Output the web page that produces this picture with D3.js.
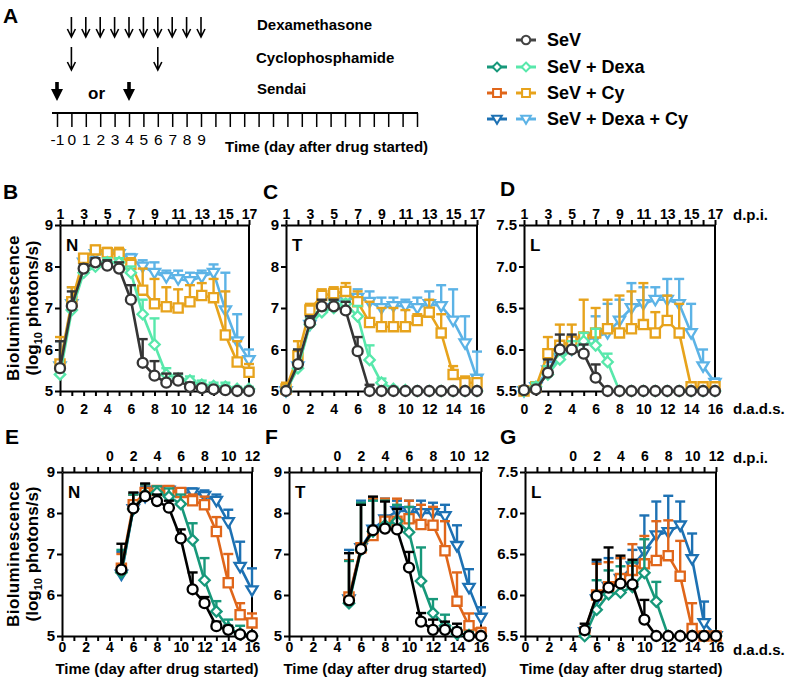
<!DOCTYPE html>
<html>
<head>
<meta charset="utf-8">
<script src="https://cdn.jsdelivr.net/npm/d3@7"></script>
<style>
  body { margin: 0; background: #fff; }
  svg { display: block; }
</style>
</head>
<body>
<svg id="fig" width="788" height="687"></svg>
<script>
// ---- data ----------------------------------------------------------------
// x values: day after drug started (d.a.d.s.)
const daysEarly = [0, 1, 2, 3, 4, 5, 6, 7, 8, 9, 10, 11, 12, 13, 14, 15, 16];
const daysLate = [5, 6, 7, 8, 9, 10, 11, 12, 13, 14, 15, 16];

// panel A schedule
const dexaDays = [0, 1, 2, 3, 4, 5, 6, 7, 8, 9];
const cyDays = [0, 6];
const sendaiDays = [-1, 4];

// B - nose, infected day -1
const bSeV = [5.55, 7.05, 7.95, 8.1, 8.02, 7.95, 7.2, 5.68, 5.37, 5.2, 5.25, 5.1, 5.07, 5.04, 5.02, 5.0, 5.0];
const bSeVErr = [6.2, 7.4, 8.05, 8.2, 8.15, 8.1, 7.55, 6.25, 5.72, 5.42, 5.42, 5.2, 5.12, 5.08, 5.05, 5.02, 5.02];
const bDexa = [5.4, 6.95, 7.85, 8.0, 8.1, 8.1, 7.85, 6.85, 6.12, 5.4, 5.3, 5.25, 5.15, 5.12, 5.1, 5.05, 5.05];
const bDexaErr = [5.5, 7.1, 8.0, 8.1, 8.2, 8.2, 8.0, 7.2, 6.75, 5.55, 5.4, 5.35, 5.25, 5.2, 5.2, 5.1, 5.1];
const bCy = [5.65, 7.15, 8.2, 8.4, 8.33, 8.3, 8.05, 7.43, 7.1, 7.03, 7.0, 7.15, 7.3, 7.25, 6.35, 5.7, 5.45];
const bCyErr = [6.3, 7.5, 8.3, 8.5, 8.45, 8.45, 8.2, 7.95, 7.7, 7.5, 7.45, 7.55, 7.6, 7.7, 7.4, 6.2, 5.65];
const bDexaCy = [5.6, 7.1, 8.1, 8.3, 8.3, 8.3, 8.2, 8.0, 7.85, 7.75, 7.7, 7.65, 7.75, 7.85, 6.95, 6.2, 5.75];
const bDexaCyErr = [6.2, 7.5, 8.2, 8.4, 8.4, 8.4, 8.3, 8.15, 8.1, 7.9, 7.9, 7.85, 7.9, 8.05, 7.85, 6.85, 6.0];

// C - trachea, infected day -1
const cSeV = [5.0, 5.65, 6.64, 7.04, 7.04, 6.94, 5.96, 5.0, 5.0, 5.0, 5.0, 5.0, 5.0, 5.0, 5.0, 5.0, 5.0];
const cSeVErr = [5.05, 6.0, 6.8, 7.2, 7.2, 7.15, 6.3, 5.15, 5.05, 5.0, 5.0, 5.0, 5.0, 5.0, 5.0, 5.0, 5.0];
const cDexa = [5.0, 5.55, 6.6, 6.9, 7.0, 7.1, 6.8, 5.75, 5.2, 5.05, 5.02, 5.0, 5.0, 5.0, 5.0, 5.0, 5.0];
const cDexaErr = [5.05, 5.7, 6.75, 7.05, 7.15, 7.2, 7.05, 6.1, 5.3, 5.1, 5.05, 5.0, 5.0, 5.0, 5.0, 5.0, 5.0];
const cCy = [5.05, 5.85, 6.95, 7.3, 7.35, 7.4, 7.15, 6.65, 6.55, 6.55, 6.55, 6.7, 6.9, 6.4, 5.4, 5.2, 5.2];
const cCyErr = [5.2, 6.2, 7.1, 7.45, 7.5, 7.6, 7.4, 7.15, 7.0, 7.0, 6.95, 6.85, 7.2, 6.85, 5.6, 5.35, 5.3];
const cDexaCy = [5.0, 5.6, 6.6, 7.0, 7.15, 7.2, 7.25, 7.15, 7.0, 7.05, 7.05, 7.0, 7.1, 7.05, 6.7, 6.15, 5.3];
const cDexaCyErr = [5.1, 6.0, 6.8, 7.2, 7.35, 7.45, 7.45, 7.4, 7.25, 7.25, 7.2, 7.25, 7.4, 7.55, 7.45, 6.8, 5.95];

// D - lungs, infected day -1
const dSeV = [5.51, 5.52, 5.72, 6.0, 6.0, 5.95, 5.66, 5.5, 5.5, 5.5, 5.5, 5.5, 5.5, 5.5, 5.5, 5.5, 5.5];
const dSeVErr = [5.52, 5.55, 5.88, 6.18, 6.18, 6.06, 5.82, 5.52, 5.5, 5.5, 5.5, 5.5, 5.5, 5.5, 5.5, 5.5, 5.5];
const dDexa = [5.5, 5.55, 5.7, 5.88, 6.0, 6.1, 6.05, 5.85, 5.5, 5.5, 5.5, 5.5, 5.5, 5.5, 5.5, 5.5, 5.5];
const dDexaErr = [5.5, 5.6, 5.8, 5.95, 6.1, 6.2, 6.25, 5.95, 5.52, 5.5, 5.5, 5.5, 5.5, 5.5, 5.5, 5.5, 5.5];
const dCy = [5.5, 5.55, 5.95, 6.05, 6.1, 6.15, 6.2, 6.25, 6.2, 6.25, 6.3, 6.2, 6.35, 6.2, 5.55, 5.55, 5.55];
const dCyErr = [5.55, 5.6, 6.15, 6.3, 6.3, 6.6, 6.5, 6.6, 6.65, 6.7, 6.8, 6.45, 6.65, 6.55, 5.6, 5.6, 5.6];
const dDexaCy = [5.5, 5.55, 5.75, 5.9, 6.0, 6.1, 6.15, 6.2, 6.35, 6.5, 6.55, 6.6, 6.6, 6.55, 6.2, 5.8, 5.6];
const dDexaCyErr = [5.55, 5.6, 5.85, 6.05, 6.15, 6.2, 6.4, 6.55, 6.6, 6.8, 6.75, 6.75, 6.85, 6.85, 6.55, 6.0, 5.65];

// E - nose, infected day 4
const eSeV = [6.62, 8.11, 8.41, 8.29, 8.13, 7.38, 6.14, 5.8, 5.24, 5.15, 5.04, 5.0];
const eSeVErr = [7.25, 8.5, 8.72, 8.45, 8.3, 7.6, 6.55, 5.95, 5.35, 5.25, 5.08, 5.02];
const eDexa = [6.55, 8.1, 8.45, 8.5, 8.4, 8.22, 7.34, 6.36, 5.6, 5.2, 5.05, 5.0];
const eDexaErr = [7.1, 8.45, 8.7, 8.65, 8.6, 8.45, 7.75, 6.9, 5.85, 5.4, 5.25, 5.05];
const eCy = [6.65, 8.2, 8.5, 8.55, 8.55, 8.5, 8.3, 8.2, 7.55, 6.3, 5.52, 5.32];
const eCyErr = [7.0, 8.45, 8.7, 8.65, 8.62, 8.6, 8.45, 8.4, 7.9, 7.0, 5.8, 5.55];
const eDexaCy = [6.5, 8.1, 8.4, 8.55, 8.55, 8.5, 8.5, 8.42, 8.3, 7.78, 6.69, 6.12];
const eDexaCyErr = [7.05, 8.45, 8.65, 8.65, 8.65, 8.6, 8.6, 8.55, 8.45, 8.08, 7.3, 6.65];

// F - trachea, infected day 4
const fSeV = [5.87, 7.12, 7.58, 7.62, 7.6, 6.67, 5.35, 5.15, 5.15, 5.1, 5.0, 5.0];
const fSeVErr = [7.02, 8.2, 8.4, 8.28, 8.1, 7.05, 5.56, 5.4, 5.35, 5.3, 5.05, 5.02];
const fDexa = [5.8, 7.1, 7.55, 7.7, 7.8, 7.53, 6.34, 5.56, 5.25, 5.05, 5.02, 5.0];
const fDexaErr = [6.83, 8.25, 8.3, 8.3, 8.2, 8.15, 7.16, 5.9, 5.52, 5.2, 5.1, 5.05];
const fCy = [5.95, 7.15, 7.45, 7.8, 7.8, 7.86, 7.72, 7.7, 7.08, 5.85, 5.25, 5.08];
const fCyErr = [6.85, 8.2, 8.35, 8.35, 8.35, 8.3, 8.2, 8.15, 7.8, 6.55, 5.55, 5.2];
const fDexaCy = [5.9, 7.15, 7.6, 7.85, 8.05, 8.05, 8.0, 8.0, 7.93, 7.2, 6.18, 5.45];
const fDexaCyErr = [7.1, 8.3, 8.35, 8.35, 8.3, 8.3, 8.3, 8.25, 8.2, 7.7, 6.63, 5.7];

// G - lungs, infected day 4
const gSeV = [5.57, 5.99, 6.09, 6.14, 6.13, 5.7, 5.5, 5.5, 5.5, 5.5, 5.5, 5.5];
const gSeVErr = [5.65, 6.43, 6.58, 6.48, 6.43, 5.94, 5.5, 5.5, 5.5, 5.5, 5.5, 5.5];
const gDexa = [5.5, 5.82, 6.01, 6.03, 6.1, 6.27, 5.92, 5.5, 5.5, 5.5, 5.5, 5.5];
const gDexaErr = [5.55, 6.18, 6.3, 6.35, 6.4, 6.68, 6.16, 5.5, 5.5, 5.5, 5.5, 5.5];
const gCy = [5.55, 6.0, 6.1, 6.2, 6.3, 6.38, 6.42, 6.48, 6.23, 5.59, 5.5, 5.5];
const gCyErr = [5.6, 6.38, 6.4, 6.45, 6.62, 6.72, 6.9, 6.91, 6.66, 5.9, 5.55, 5.5];
const gDexaCy = [5.55, 5.95, 6.1, 6.2, 6.35, 6.53, 6.73, 6.77, 6.85, 6.44, 5.66, 5.5];
const gDexaCyErr = [5.6, 6.4, 6.45, 6.45, 6.55, 6.97, 7.14, 7.21, 7.14, 6.75, 5.92, 5.52];

const legendLabels = ['SeV', 'SeV + Dexa', 'SeV + Cy', 'SeV + Dexa + Cy'];

// ---- styles ----------------------------------------------------------------
const FONT = '"Liberation Sans", Arial, Helvetica, sans-serif';
const light = { sev: '#353535', dexa: '#58e8ab', cy: '#e7a31c', dexaCy: '#5cb3e6' };
const dark = { sev: '#000000', dexa: '#17987a', cy: '#e0661a', dexaCy: '#1d71b3' };

// marker outlines, drawn around 0,0
const markerPath = {
  sev: d3.symbol(d3.symbolCircle, 78)(),
  dexa: 'M0,-5.2L5.2,0L0,5.2L-5.2,0Z',
  cy: 'M-4.6,-4.6H4.6V4.6H-4.6Z',
  dexaCy: 'M-5.6,-3.8L5.6,-3.8L0,5.6Z',
};

const svg = d3.select('#fig').attr('font-family', FONT);

function txt(x, y, s, size, opts = {}) {
  return svg.append('text')
    .attr('x', x).attr('y', y)
    .attr('font-size', size)
    .attr('font-weight', opts.weight || 'bold')
    .attr('text-anchor', opts.anchor || 'start')
    .attr('fill', '#000')
    .text(s);
}

function styleAxis(g, size) {
  g.attr('font-family', FONT).attr('font-size', size).attr('font-weight', 'bold');
  g.select('.domain').attr('stroke', '#000').attr('stroke-width', 2);
  g.selectAll('.tick line').attr('stroke', '#000').attr('stroke-width', 2);
  g.selectAll('.tick text').attr('fill', '#000');
}

// ---- panel A ---------------------------------------------------------------
txt(3, 23, 'A', 21);

const tScale = d3.scaleLinear().domain([-1, 24]).range([57, 417]);
const timeline = svg.append('g').attr('transform', 'translate(0,113)')
  .call(d3.axisBottom(tScale)
    .tickValues(d3.range(-1, 25))
    .tickFormat(d => (d <= 9 ? d : ''))
    .tickSize(14)
    .tickPadding(7));
timeline.select('.domain').remove();
timeline.selectAll('.tick line').attr('stroke', '#000').attr('stroke-width', 1.5);
timeline.selectAll('.tick text').attr('fill', '#000')
  .attr('font-family', FONT).attr('font-size', 15.5);
svg.append('line').attr('x1', 52).attr('x2', 418).attr('y1', 113).attr('y2', 113)
  .attr('stroke', '#000').attr('stroke-width', 2);

function thinArrow(x, y1, y2) {
  svg.append('path')
    .attr('d', `M${x},${y1}V${y2}M${x - 4},${y2 - 8}L${x},${y2}L${x + 4},${y2 - 8}`)
    .attr('fill', 'none').attr('stroke', '#000').attr('stroke-width', 1.6);
}
dexaDays.forEach(d => thinArrow(tScale(d), 17, 37));
cyDays.forEach(d => thinArrow(tScale(d), 47, 70));
sendaiDays.forEach(d => {
  const x = tScale(d);
  svg.append('path')
    .attr('d', `M${x - 1.8},82H${x + 1.8}V89H${x + 6}L${x},101L${x - 6},89H${x - 1.8}Z`)
    .attr('fill', '#000');
});
txt(88, 99, 'or', 17);
txt(257, 30, 'Dexamethasone', 15);
txt(256, 63, 'Cyclophosphamide', 15);
txt(257, 94, 'Sendai', 15);
txt(225, 152, 'Time (day after drug started)', 15);

// ---- legend -----------------------------------------------------------------
const legendKeys = ['sev', 'dexa', 'cy', 'dexaCy'];
const legendY = [40, 67, 93, 119];
legendKeys.forEach((k, i) => {
  const y = legendY[i];
  const cols = k === 'sev' ? [[526, '#444']] : [[497, dark[k]], [526, light[k]]];
  cols.forEach(([cx, c]) => {
    svg.append('line').attr('x1', cx - 10).attr('x2', cx + 10).attr('y1', y).attr('y2', y)
      .attr('stroke', c).attr('stroke-width', 3);
    svg.append('path').attr('d', markerPath[k]).attr('transform', `translate(${cx},${y}) scale(0.85)`)
      .attr('fill', '#fff').attr('stroke', c).attr('stroke-width', 2.4);
  });
  txt(547, y + 6, legendLabels[i], 18);
});

// ---- time-course panels ----------------------------------------------------
function drawSeries(g, x, y, days, vals, errs, color, key) {
  const eb = g.append('g').attr('stroke', color).attr('stroke-width', 2.4);
  days.forEach((d, i) => {
    if (errs[i] - vals[i] < 0.02) return;
    eb.append('line').attr('x1', x(d)).attr('x2', x(d)).attr('y1', y(vals[i])).attr('y2', y(errs[i]));
    eb.append('line').attr('x1', x(d) - 5).attr('x2', x(d) + 5).attr('y1', y(errs[i])).attr('y2', y(errs[i]));
  });
  g.append('path')
    .datum(days.map((d, i) => [d, vals[i]]))
    .attr('d', d3.line().x(p => x(p[0])).y(p => y(p[1])))
    .attr('fill', 'none').attr('stroke', color).attr('stroke-width', 2.6);
  g.append('g').selectAll('path')
    .data(days.map((d, i) => [d, vals[i]]))
    .join('path')
    .attr('d', markerPath[key])
    .attr('transform', p => `translate(${x(p[0])},${y(p[1])})`)
    .attr('fill', '#fff').attr('stroke', color).attr('stroke-width', 2.3);
}

function drawPanel(p) {
  const g = svg.append('g');
  const x = d3.scaleLinear().domain([0, 16]).range([p.left, p.right]);
  const y = d3.scaleLinear().domain(p.yDomain).range([p.bottom, p.top]);
  const top = d3.scaleLinear().domain([p.dpiStart, p.dpiStart + 16]).range([p.left, p.right]);

  styleAxis(g.append('g').attr('transform', `translate(0,${p.bottom})`)
    .call(d3.axisBottom(x).tickValues(d3.range(0, 17))
      .tickFormat(d => (d % 2 === 0 ? d : ''))
      .tickSize(5).tickSizeOuter(0).tickPadding(p.botPad)), 14);
  styleAxis(g.append('g').attr('transform', `translate(0,${p.top})`)
    .call(d3.axisTop(top).tickValues(d3.range(p.dpiStart, p.dpiStart + 17))
      .tickFormat(p.topLabel)
      .tickSize(5).tickSizeOuter(0).tickPadding(p.topPad)), 14);
  styleAxis(g.append('g').attr('transform', `translate(${p.left},0)`)
    .call(d3.axisLeft(y).tickValues(p.yTicks).tickFormat(d3.format(p.yFmt))
      .tickSize(5).tickSizeOuter(0).tickPadding(2)), 15);
  g.append('line').attr('x1', p.right).attr('x2', p.right).attr('y1', p.top).attr('y2', p.bottom)
    .attr('stroke', '#000').attr('stroke-width', 2);

  const pal = p.colors;
  const series = [
    ['dexaCy', p.dexaCy, p.dexaCyErr],
    ['cy', p.cy, p.cyErr],
    ['dexa', p.dexa, p.dexaErr],
    ['sev', p.sev, p.sevErr],
  ];
  series.forEach(([k, v, e]) => drawSeries(g, x, y, p.days, v, e, pal[k], k));

  txt(p.left + 6, p.top + 26, p.tissue, 17);
  txt(p.letterX, p.letterY, p.letter, 21);
}

const earlyTop = d => (d % 2 === 1 ? d : '');
const lateTop = d => (d >= 0 && d % 2 === 0 ? d : '');

const panels = [
  { letter: 'B', letterX: 3, letterY: 199, tissue: 'N', left: 60, right: 249, top: 225, bottom: 391,
    yDomain: [5, 9], yTicks: [5, 6, 7, 8, 9], yFmt: 'd', dpiStart: 1, topLabel: earlyTop, topPad: 1, botPad: 8,
    days: daysEarly, colors: light,
    sev: bSeV, sevErr: bSeVErr, dexa: bDexa, dexaErr: bDexaErr, cy: bCy, cyErr: bCyErr, dexaCy: bDexaCy, dexaCyErr: bDexaCyErr },
  { letter: 'C', letterX: 263, letterY: 199, tissue: 'T', left: 286, right: 477, top: 225, bottom: 391,
    yDomain: [5, 9], yTicks: [5, 6, 7, 8, 9], yFmt: 'd', dpiStart: 1, topLabel: earlyTop, topPad: 1, botPad: 8,
    days: daysEarly, colors: light,
    sev: cSeV, sevErr: cSeVErr, dexa: cDexa, dexaErr: cDexaErr, cy: cCy, cyErr: cCyErr, dexaCy: cDexaCy, dexaCyErr: cDexaCyErr },
  { letter: 'D', letterX: 500, letterY: 196, tissue: 'L', left: 524, right: 715, top: 225, bottom: 391,
    yDomain: [5.5, 7.5], yTicks: [5.5, 6.0, 6.5, 7.0, 7.5], yFmt: '.1f', dpiStart: 1, topLabel: earlyTop, topPad: 1, botPad: 8,
    days: daysEarly, colors: light,
    sev: dSeV, sevErr: dSeVErr, dexa: dDexa, dexaErr: dDexaErr, cy: dCy, cyErr: dCyErr, dexaCy: dDexaCy, dexaCyErr: dDexaCyErr },
  { letter: 'E', letterX: 5, letterY: 444, tissue: 'N', left: 62, right: 252, top: 472, bottom: 636,
    yDomain: [5, 9], yTicks: [5, 6, 7, 8, 9], yFmt: 'd', dpiStart: -4, topLabel: lateTop, topPad: 6, botPad: 1,
    days: daysLate, colors: dark,
    sev: eSeV, sevErr: eSeVErr, dexa: eDexa, dexaErr: eDexaErr, cy: eCy, cyErr: eCyErr, dexaCy: eDexaCy, dexaCyErr: eDexaCyErr },
  { letter: 'F', letterX: 265, letterY: 444, tissue: 'T', left: 289, right: 481, top: 472, bottom: 636,
    yDomain: [5, 9], yTicks: [5, 6, 7, 8, 9], yFmt: 'd', dpiStart: -4, topLabel: lateTop, topPad: 6, botPad: 1,
    days: daysLate, colors: dark,
    sev: fSeV, sevErr: fSeVErr, dexa: fDexa, dexaErr: fDexaErr, cy: fCy, cyErr: fCyErr, dexaCy: fDexaCy, dexaCyErr: fDexaCyErr },
  { letter: 'G', letterX: 500, letterY: 444, tissue: 'L', left: 525, right: 716, top: 472, bottom: 636,
    yDomain: [5.5, 7.5], yTicks: [5.5, 6.0, 6.5, 7.0, 7.5], yFmt: '.1f', dpiStart: -4, topLabel: lateTop, topPad: 6, botPad: 1,
    days: daysLate, colors: dark,
    sev: gSeV, sevErr: gSeVErr, dexa: gDexa, dexaErr: gDexaErr, cy: gCy, cyErr: gCyErr, dexaCy: gDexaCy, dexaCyErr: gDexaCyErr },
];
panels.forEach(drawPanel);

// axis captions
txt(733, 220, 'd.p.i.', 15);
txt(733, 463, 'd.p.i.', 15);
txt(733, 414, 'd.a.d.s.', 15);
txt(733, 655, 'd.a.d.s.', 15);
[157, 385, 621].forEach(cx => txt(cx, 674, 'Time (day after drug started)', 15, { anchor: 'middle' }));

function yTitle(cy) {
  svg.append('text')
    .attr('transform', `translate(19,${cy}) rotate(-90)`)
    .attr('text-anchor', 'middle').attr('font-size', 17).attr('font-weight', 'bold')
    .attr('letter-spacing', 0.4)
    .text('Bioluminescence');
  const t = svg.append('text')
    .attr('transform', `translate(38,${cy}) rotate(-90)`)
    .attr('text-anchor', 'middle').attr('font-size', 17).attr('font-weight', 'bold');
  t.append('tspan').text('(log');
  t.append('tspan').attr('font-size', 11).attr('dy', 4).text('10');
  t.append('tspan').attr('dy', -4).text(' photons/s)');
}
yTitle(308);
yTitle(554);
</script>
</body>
</html>
